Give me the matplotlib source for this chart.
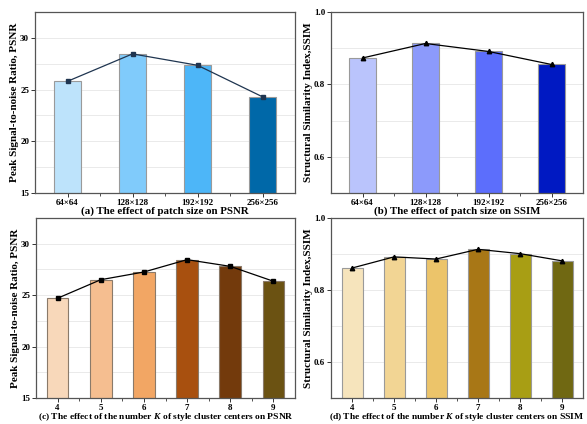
import matplotlib
matplotlib.use("Agg")
import matplotlib.pyplot as plt
from matplotlib.ticker import MultipleLocator

plt.rcParams['font.family'] = ['Liberation Serif', 'DejaVu Serif']
plt.rcParams['font.weight'] = 'bold'
plt.rcParams['mathtext.fontset'] = 'custom'
plt.rcParams['mathtext.rm'] = 'Liberation Serif'
plt.rcParams['mathtext.it'] = 'Liberation Serif:italic:bold'
plt.rcParams['mathtext.bf'] = 'Liberation Serif:bold'

# data
patch_labels = ["64×64", "128×128", "192×192", "256×256"]
patch_psnr = [25.8, 28.45, 27.35, 24.3]
patch_ssim = [0.873, 0.913, 0.891, 0.855]

k_labels = ["4", "5", "6", "7", "8", "9"]
k_psnr = [24.7, 26.5, 27.25, 28.45, 27.8, 26.35]
k_ssim = [0.861, 0.892, 0.886, 0.913, 0.901, 0.881]

blue_a = ["#BDE3FB", "#80CBFB", "#4DB6F8", "#0068A8"]
blue_b = ["#BAC4FC", "#8C9AFB", "#5C6EFC", "#0019C2"]
brown_c = ["#F8D8BA", "#F5BE90", "#F2A664", "#A8500F", "#733A0C", "#6B5212"]
gold_d = ["#F6E4BC", "#F2D594", "#ECC46A", "#A87716", "#A89E14", "#706812"]

W, H = 587, 424
fig = plt.figure(figsize=(W / 100, H / 100), dpi=100)


def box(l, r, t, b):
    return [l / W, 1 - b / H, (r - l) / W, (b - t) / H]


def panel(rect, labels, vals, colors, bar_w, ylim, major, minor,
          ylabel, caption, cap_size, marker, line_color, edge):
    ax = fig.add_axes(rect)
    x = list(range(len(labels)))
    ax.bar(x, vals, width=bar_w, color=colors, edgecolor=edge, linewidth=0.8, zorder=2)
    ax.plot(x, vals, color=line_color, linewidth=0.9, marker=marker, markersize=3.2, zorder=3)
    ax.set_xlim(-0.5, len(labels) - 0.5)
    ax.set_ylim(*ylim)
    ax.yaxis.set_major_locator(MultipleLocator(major))
    ax.yaxis.set_minor_locator(MultipleLocator(minor))
    ax.set_xticks(x)
    ax.set_xticklabels(labels)
    ax.set_xticks([i + 0.5 for i in x[:-1]], minor=True)
    ax.grid(True, which='both', axis='y', color='#E6E6E6', linewidth=0.6, zorder=0)
    ax.set_axisbelow(True)
    for s in ax.spines.values():
        s.set_color('#555555')
        s.set_linewidth(0.9)
    ax.tick_params(axis='both', which='major', direction='out', length=3, width=0.7,
                   labelsize=6.5, pad=1.2, colors='#333333', labelcolor='black')
    ax.tick_params(axis='y', which='minor', length=0)
    ax.tick_params(axis='x', which='minor', direction='out', length=2, width=0.6, colors='#333333')
    ax.set_ylabel(ylabel, fontsize=8, fontweight='bold', labelpad=1)
    ax.set_xlabel(caption, fontsize=cap_size, fontweight='bold', labelpad=-0.5)
    return ax


panel(box(35, 295, 12, 193), patch_labels, patch_psnr, blue_a, 0.42, (15, 32.5), 5, 2.5,
      "Peak Signal-to-noise Ratio, PSNR", "(a) The effect of patch size on PSNR", 7.8,
      's', '#1F3550', '#9A9A9A')
panel(box(331, 583, 12, 193), patch_labels, patch_ssim, blue_b, 0.42, (0.5, 1.0), 0.2, 0.1,
      "Structural Similarity Index,SSIM", "(b) The effect of patch size on SSIM", 7.8,
      '^', 'black', '#9A9A9A')
panel(box(36, 295, 218, 398), k_labels, k_psnr, brown_c, 0.5, (15, 32.5), 5, 2.5,
      "Peak Signal-to-noise Ratio, PSNR",
      "(c) The effect of the number $K$ of style cluster centers on PSNR", 6.8,
      's', 'black', '#8A7A6A')
panel(box(331, 583, 218, 398), k_labels, k_ssim, gold_d, 0.5, (0.5, 1.0), 0.2, 0.1,
      "Structural Similarity Index,SSIM",
      "(d) The effect of the number $K$ of style cluster centers on SSIM", 6.8,
      '^', 'black', '#9A9A9A')

fig.savefig("out.png", dpi=100)
